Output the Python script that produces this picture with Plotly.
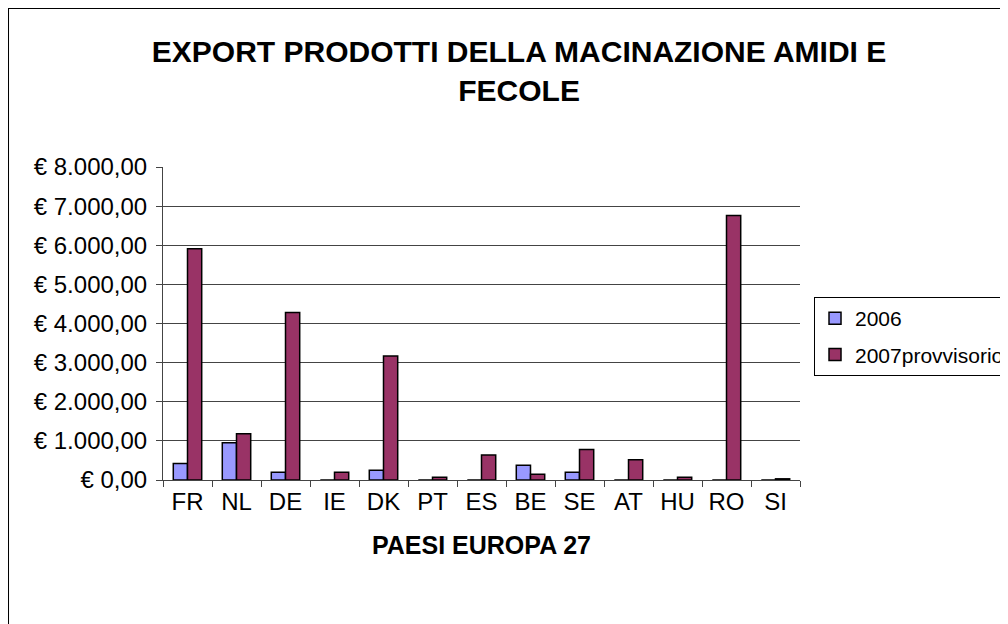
import plotly.graph_objects as go

# data
paesi = ["FR", "NL", "DE", "IE", "DK", "PT", "ES", "BE", "SE", "AT", "HU", "RO", "SI"]
export_2006 = [420, 950, 200, 0, 250, 0, 0, 380, 200, 0, 0, 0, 0]
export_2007 = [5910, 1180, 4280, 200, 3170, 70, 640, 150, 780, 520, 70, 6760, 30]

font_base = "Liberation Sans, Arial, sans-serif"

fig = go.Figure()

fig.add_trace(go.Bar(
    x=paesi, y=export_2006, name="2006", legendgroup="a",
    marker=dict(color="#9999FF", line=dict(color="black", width=1.5)),
))
fig.add_trace(go.Bar(
    x=paesi, y=export_2007, name="2007provvisorio", legendgroup="b",
    marker=dict(color="#993366", line=dict(color="black", width=1.5)),
))

fig.update_layout(
    width=1008, height=624,
    # legend sits on the right edge in the source, so no auto margin
    margin=dict(l=155, r=216, t=159, b=152, autoexpand=False),
    paper_bgcolor="white", plot_bgcolor="white",
    separators=",.",
    font=dict(family=font_base, size=24, color="black"),
    barmode="group", bargap=0.42, bargroupgap=0,
    title=dict(
        text="<b>EXPORT PRODOTTI DELLA MACINAZIONE AMIDI E<br>FECOLE</b>",
        x=0.507, xanchor="center", y=0.913, yanchor="middle",
        font=dict(size=30, family=font_base),
    ),
    legend=dict(
        x=1.022, xanchor="left", y=0.458, yanchor="middle",
        bordercolor="black", borderwidth=1, bgcolor="white",
        font=dict(size=21), tracegroupgap=6, itemwidth=30,
    ),
    showlegend=True,
)

fig.update_yaxes(
    range=[0, 8000], dtick=1000,
    tickprefix="€ ", tickformat=",.2f",
    showgrid=True, gridcolor="#444444", gridwidth=1,
    showline=True, linecolor="#444444", linewidth=1,
    ticks="outside", ticklen=6, tickcolor="#444444",
    ticklabelstandoff=4,
    zeroline=False,
)
fig.update_xaxes(
    showline=True, linecolor="#444444", linewidth=1,
    ticks="outside", ticklen=6, tickcolor="#444444",
    tickson="boundaries",
    title=dict(text="<b>PAESI EUROPA 27</b>", font=dict(size=25), standoff=22),
)

# outer chart frame (runs past the right and bottom edge like the source)
fig.add_shape(
    type="rect", xref="paper", yref="paper",
    x0=-0.2433, x1=1.5, y0=-0.6, y1=1.508,
    line=dict(color="black", width=2), layer="below",
)

fig.write_html("out.html")
